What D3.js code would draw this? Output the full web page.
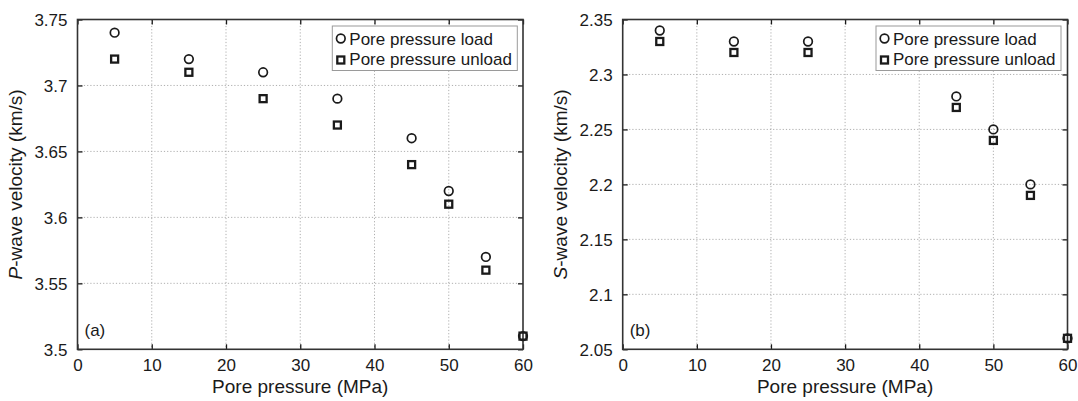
<!DOCTYPE html>
<html>
<head>
<meta charset="utf-8">
<script src="https://cdn.jsdelivr.net/npm/d3@7"></script>
<style>
  html, body { margin: 0; padding: 0; background: #fff; }
  svg { display: block; font-family: "Liberation Sans", Arial, Helvetica, sans-serif; }
</style>
</head>
<body>
<svg id="chart" width="1078" height="401"></svg>
<script>
// Pore pressure (MPa) at which velocities were measured
const pressureP = [5, 15, 25, 35, 45, 50, 55, 60];
const pressureS = [5, 15, 25, 45, 50, 55, 60];

// P-wave velocity (km/s)
const pLoad   = [3.74, 3.72, 3.71, 3.69, 3.66, 3.62, 3.57, 3.51];
const pUnload = [3.72, 3.71, 3.69, 3.67, 3.64, 3.61, 3.56, 3.51];

// S-wave velocity (km/s)
const sLoad   = [2.34, 2.33, 2.33, 2.28, 2.25, 2.20, 2.06];
const sUnload = [2.33, 2.32, 2.32, 2.27, 2.24, 2.19, 2.06];

// Axis ticks
const xTicks  = [0, 10, 20, 30, 40, 50, 60];
const pTicks  = [3.5, 3.55, 3.6, 3.65, 3.7, 3.75];
const pLabels = ["3.5", "3.55", "3.6", "3.65", "3.7", "3.75"];
const sTicks  = [2.05, 2.1, 2.15, 2.2, 2.25, 2.3, 2.35];
const sLabels = ["2.05", "2.1", "2.15", "2.2", "2.25", "2.3", "2.35"];

const legendLabels = ["Pore pressure load", "Pore pressure unload"];

const ink = "#1a1a1a";
const svg = d3.select("#chart");

function panel(opts) {
  const { left, right, top, bottom, xs, load, unload, yDomain, yTicks, yLabels, yLetter, tag, legendX } = opts;
  const x = d3.scaleLinear().domain([0, 60]).range([left, right]);
  const y = d3.scaleLinear().domain(yDomain).range([bottom, top]);
  const g = svg.append("g");

  // dotted grid
  g.append("g").selectAll("line").data(xTicks.slice(1, -1)).join("line")
    .attr("x1", d => x(d)).attr("x2", d => x(d))
    .attr("y1", top).attr("y2", bottom)
    .attr("stroke", "#9a9a9a").attr("stroke-width", 0.8).attr("stroke-dasharray", "1.2,2");
  g.append("g").selectAll("line").data(yTicks.slice(1, -1)).join("line")
    .attr("y1", d => y(d)).attr("y2", d => y(d))
    .attr("x1", left).attr("x2", right)
    .attr("stroke", "#9a9a9a").attr("stroke-width", 0.8).attr("stroke-dasharray", "1.2,2");

  // axes with inward ticks on all sides
  const fmtY = d => yLabels[yTicks.indexOf(d)];
  const axB = g.append("g").attr("transform", `translate(0,${bottom})`)
    .call(d3.axisBottom(x).tickValues(xTicks).tickSize(-5).tickPadding(10).tickSizeOuter(0));
  const axT = g.append("g").attr("transform", `translate(0,${top})`)
    .call(d3.axisTop(x).tickValues(xTicks).tickSize(-5).tickFormat("").tickSizeOuter(0));
  const axL = g.append("g").attr("transform", `translate(${left},0)`)
    .call(d3.axisLeft(y).tickValues(yTicks).tickFormat(fmtY).tickSize(-5).tickPadding(10).tickSizeOuter(0));
  const axR = g.append("g").attr("transform", `translate(${right},0)`)
    .call(d3.axisRight(y).tickValues(yTicks).tickSize(-5).tickFormat("").tickSizeOuter(0));
  [axB, axT, axL, axR].forEach(a => {
    a.select(".domain").remove();
    a.selectAll(".tick line").attr("stroke", ink).attr("stroke-width", 1.3);
    a.selectAll("text").attr("fill", ink).attr("font-size", 17)
      .attr("font-family", "Liberation Sans, Arial, sans-serif");
  });
  axL.selectAll("text").attr("dy", "0.36em");

  // frame
  g.append("rect").attr("x", left).attr("y", top)
    .attr("width", right - left).attr("height", bottom - top)
    .attr("fill", "none").attr("stroke", "#333").attr("stroke-width", 1.6);

  // axis titles
  g.append("text").attr("x", (left + right) / 2).attr("y", 393)
    .attr("text-anchor", "middle").attr("font-size", 19).attr("fill", ink)
    .text("Pore pressure (MPa)");
  const yt = g.append("text")
    .attr("transform", `translate(${left - 56},${(top + bottom) / 2}) rotate(-90)`)
    .attr("text-anchor", "middle").attr("font-size", 19).attr("fill", ink);
  yt.append("tspan").attr("font-style", "italic").text(yLetter);
  yt.append("tspan").text("-wave velocity (km/s)");

  // panel tag
  g.append("text").attr("x", left + 7).attr("y", bottom - 13)
    .attr("font-size", 17).attr("fill", ink).text(tag);

  // markers
  const circ = sel => sel.attr("r", 4.3).attr("fill", "none").attr("stroke", ink).attr("stroke-width", 1.7);
  const sq = sel => sel.attr("width", 7).attr("height", 7)
    .attr("fill", "none").attr("stroke", ink).attr("stroke-width", 2.3);

  g.append("g").selectAll("circle").data(xs.map((p, i) => [p, load[i]])).join("circle")
    .attr("cx", d => x(d[0])).attr("cy", d => y(d[1])).call(circ);
  g.append("g").selectAll("rect").data(xs.map((p, i) => [p, unload[i]])).join("rect")
    .attr("x", d => x(d[0]) - 3.5).attr("y", d => y(d[1]) - 3.5).call(sq);

  // legend
  const lg = g.append("g");
  lg.append("rect").attr("x", legendX).attr("y", 26).attr("width", 185).attr("height", 44.5)
    .attr("fill", "#fff").attr("stroke", "#9a9a9a").attr("stroke-width", 1);
  lg.append("circle").attr("cx", legendX + 8.5).attr("cy", 38.5).call(circ);
  lg.append("rect").attr("x", legendX + 5).attr("y", 56.5).call(sq);
  lg.selectAll("text.lbl").data(legendLabels).join("text").attr("class", "lbl")
    .attr("x", legendX + 17).attr("y", (d, i) => 44.5 + i * 20.5)
    .attr("font-size", 17).attr("fill", ink).text(d => d);
}

panel({
  left: 77.5, right: 523, top: 19.5, bottom: 349.3,
  xs: pressureP, load: pLoad, unload: pUnload,
  yDomain: [3.5, 3.75], yTicks: pTicks, yLabels: pLabels,
  yLetter: "P", tag: "(a)", legendX: 332.3
});

panel({
  left: 622.7, right: 1067.5, top: 19.5, bottom: 349.3,
  xs: pressureS, load: sLoad, unload: sUnload,
  yDomain: [2.05, 2.35], yTicks: sTicks, yLabels: sLabels,
  yLetter: "S", tag: "(b)", legendX: 876
});
</script>
</body>
</html>
